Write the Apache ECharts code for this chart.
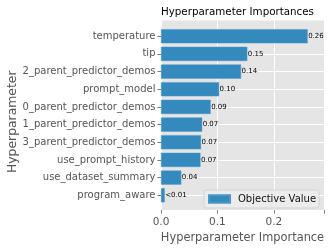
<!DOCTYPE html>
<html>
<head>
<meta charset="utf-8">
<script src="https://cdn.jsdelivr.net/npm/echarts@6/dist/echarts.min.js"></script>
<style>html,body{margin:0;padding:0;background:#fff}#c{width:332px;height:249px}</style>
</head>
<body>
<div id="c"></div>
<script>
var categories = ['temperature','tip','2_parent_predictor_demos','prompt_model','0_parent_predictor_demos','1_parent_predictor_demos','3_parent_predictor_demos','use_prompt_history','use_dataset_summary','program_aware'];
var importances = [0.260, 0.153, 0.142, 0.103, 0.088, 0.073, 0.071, 0.070, 0.036, 0.0066];
var xTicks = [0, 0.1, 0.2];
var seriesName = 'Objective Value';

var FONT = 'DejaVu Sans';
var xMax = 0.289;
var chart = echarts.init(document.getElementById('c'), null, {renderer: 'canvas'});
chart.setOption({
  animation: false,
  textStyle: {fontFamily: FONT},
  title: {
    text: 'Hyperparameter Importances',
    left: 161, top: 7, padding: 0,
    textStyle: {fontFamily: FONT, fontSize: 10.3, fontWeight: 'normal', color: '#000'}
  },
  legend: {
    data: [seriesName],
    left: 204, top: 190,
    padding: [4, 3, 4, 4],
    icon: 'rect',
    itemWidth: 21, itemHeight: 7.5,
    backgroundColor: 'rgba(236,236,236,0.9)',
    borderColor: '#cfcfcf', borderWidth: 0.8, borderRadius: 3,
    textStyle: {fontFamily: FONT, fontSize: 10, color: '#111', padding: [0, 0, 0, 3]}
  },
  grid: [
    {left: 161, right: 8, top: 20.5, bottom: 38, show: true, backgroundColor: '#E5E5E5', borderWidth: 0},
    {left: 161, right: 8, top: 27.4, bottom: 44.9, show: false}
  ],
  xAxis: [
    {
      type: 'value', gridIndex: 0, min: 0, max: xMax, interval: 0.1,
      name: 'Hyperparameter Importance', nameLocation: 'middle', nameGap: 18,
      nameTextStyle: {fontFamily: FONT, fontSize: 11.4, color: '#555'},
      axisLine: {show: false},
      axisTick: {show: true, length: 3.5, lineStyle: {color: '#555', width: 0.8}},
      axisLabel: {margin: 7, fontFamily: FONT, fontSize: 10.5, color: '#555',
        formatter: function (v) { return xTicks.indexOf(Math.round(v * 10) / 10) >= 0 ? v.toFixed(1) : ''; }},
      splitLine: {show: true, lineStyle: {color: '#fff', width: 1}}
    },
    {
      type: 'value', gridIndex: 1, min: 0, max: xMax, show: false
    }
  ],
  yAxis: [
    {
      type: 'category', gridIndex: 1, data: categories, inverse: true, position: 'left',
      name: 'Hyperparameter', nameLocation: 'middle', nameGap: 141, nameRotate: 90,
      nameTextStyle: {fontFamily: FONT, fontSize: 12.4, color: '#555', padding: [0, 12, 0, 0]},
      axisLine: {show: false},
      axisTick: {show: true, alignWithLabel: true, length: 3.5, lineStyle: {color: '#555', width: 0.8}},
      axisLabel: {margin: 5.5, fontFamily: FONT, fontSize: 10, color: '#555'},
      splitLine: {show: false}
    },
    {
      type: 'category', gridIndex: 1, data: categories, inverse: true, position: 'right',
      axisLine: {show: false},
      axisTick: {show: true, inside: true, alignWithLabel: true, length: 163, lineStyle: {color: '#fff', width: 1}},
      axisLabel: {show: false},
      splitLine: {show: false}
    },
    {
      type: 'value', gridIndex: 0, min: 0, max: 1, show: false
    }
  ],
  series: [{
    name: seriesName,
    type: 'bar',
    xAxisIndex: 1, yAxisIndex: 0,
    data: importances,
    barCategoryGap: '20%',
    itemStyle: {color: '#348ABD', borderColor: '#4a96c6', borderWidth: 0.5},
    label: {
      show: true, position: 'right', distance: 0.5,
      fontFamily: FONT, fontSize: 7, color: '#000',
      formatter: function (p) { return p.value < 0.01 ? '<0.01' : p.value.toFixed(2); }
    },
    z: 2
  }]
});
</script>
</body>
</html>
